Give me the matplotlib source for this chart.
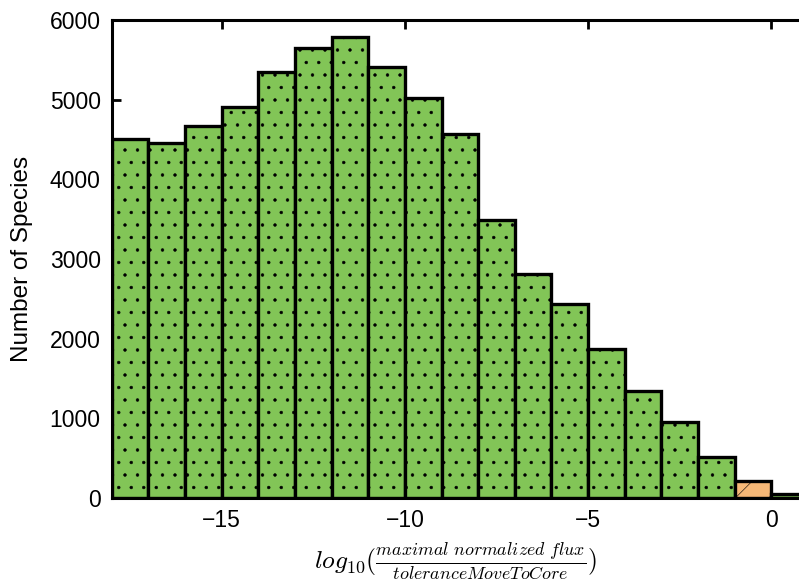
import matplotlib

matplotlib.use("Agg")
import matplotlib.hatch as mhatch
import matplotlib.pyplot as plt

# bin left edges (log10 units), width 1
bin_left = [-18, -17, -16, -15, -14, -13, -12, -11, -10, -9,
            -8, -7, -6, -5, -4, -3, -2, -1, 0]
counts = [4500, 4460, 4670, 4910, 5340, 5650, 5790, 5410, 5020, 4570,
          3490, 2810, 2430, 1870, 1350, 950, 520, 215, 50]
# bins shown in orange (above the tolerance)
orange_bins = [-1]

GREEN = "#82c557"
ORANGE = "#f7b877"


# sparser dot texture than matplotlib's default '..' / '.'
class SparseDots(mhatch.Circles):
    size = 0.11
    filled = True

    def __init__(self, hatch, density):
        self.num_rows = hatch.count(".") * 8
        super().__init__(hatch, density)


mhatch._hatch_types = [SparseDots if t is mhatch.SmallFilledCircles else t
                       for t in mhatch._hatch_types]

plt.rcParams["font.family"] = ["Liberation Sans", "DejaVu Sans"]
plt.rcParams["mathtext.fontset"] = "cm"
plt.rcParams["hatch.color"] = "#3f5636"
plt.rcParams["hatch.linewidth"] = 0.4

fig = plt.figure(figsize=(7.99, 5.84), dpi=100)
ax = fig.add_axes([0.140, 0.147, 0.917, 0.819])

for x, c in zip(bin_left, counts):
    if x in orange_bins:
        ax.bar(x, c, width=1, align="edge", color=ORANGE, edgecolor="black",
               linewidth=2.4, hatch="/", zorder=2)
    else:
        ax.bar(x, c, width=1, align="edge", color=GREEN, edgecolor="black",
               linewidth=2.4, hatch=".", zorder=2)

ax.set_xlim(-18, 2)
ax.set_ylim(0, 6000)
ax.set_xticks([-15, -10, -5, 0])
ax.set_yticks(range(0, 6001, 1000))
ax.tick_params(direction="in", length=6.5, width=2, labelsize=16.5,
               top=True, right=False, pad=8)
for s in ax.spines.values():
    s.set_linewidth(2.2)
ax.spines["right"].set_visible(False)

ax.set_ylabel("Number of Species", fontsize=17.5)
ax.yaxis.set_label_coords(-0.108, 0.5)
ax.set_xlabel(r"$log_{10}(\frac{maximal\ normalized\ flux}{toleranceMoveToCore})$",
              fontsize=18.5)
ax.xaxis.set_label_coords(0.469, -0.088)

fig.savefig("out.png", dpi=100)
